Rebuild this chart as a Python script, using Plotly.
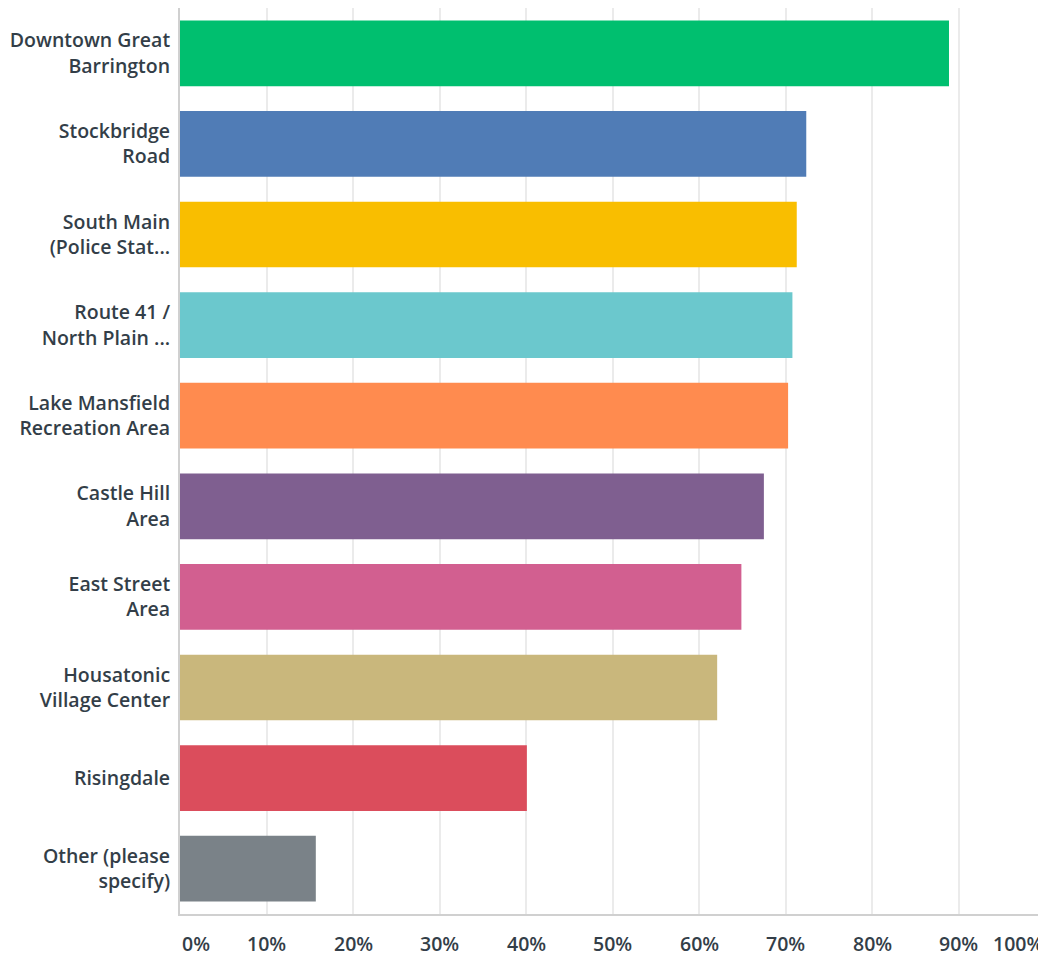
import plotly.graph_objects as go

categories = ["Downtown Great<br>Barrington", "Stockbridge<br>Road", "South Main<br>(Police Stat...",
              "Route 41 /<br>North Plain ...", "Lake Mansfield<br>Recreation Area", "Castle Hill<br>Area",
              "East Street<br>Area", "Housatonic<br>Village Center", "Risingdale", "Other (please<br>specify)"]
values = [88.9, 72.4, 71.3, 70.8, 70.3, 67.5, 64.9, 62.1, 40.1, 15.7]
colors = ["#00bf6f", "#507cb6", "#f9be00", "#6bc8cd", "#ff8b4f", "#7f5f90", "#d25f90", "#c9b77c", "#db4d5c", "#7a8288"]
tick_vals = [0, 10, 20, 30, 40, 50, 60, 70, 80, 90, 100]
tick_text = ["0%", "10%", "20%", "30%", "40%", "50%", "60%", "70%", "80%", "90%", "100%"]

FONT = "Open Sans"
TXT = "#333e48"
FS = 19.5

fig = go.Figure(go.Bar(
    x=values, y=categories, orientation="h",
    marker=dict(color=colors, line=dict(width=0)),
    hoverinfo="x+y",
))

fig.update_layout(
    width=1038, height=948,
    margin=dict(l=172, r=1, t=0, b=42),
    plot_bgcolor="white", paper_bgcolor="white",
    bargap=0.275,
    showlegend=False,
    font=dict(family=FONT, color=TXT, size=FS),
)
fig.update_yaxes(
    autorange="reversed",
    showline=True, linecolor="#d0d0d0", linewidth=2,
    ticks="", ticklabelstandoff=4,
    tickfont=dict(family=FONT, size=FS, color=TXT, weight=600),
    showgrid=False,
)
fig.update_xaxes(
    range=[0, 100], tickvals=tick_vals, showticklabels=False,
    showgrid=True, gridcolor="#ebebeb", gridwidth=2,
    showline=True, linecolor="#d0d0d0", linewidth=2,
    zeroline=False,
)
for v, t in zip(tick_vals, tick_text):
    anchor = "left" if v == 0 else ("right" if v == 100 else "center")
    fig.add_annotation(x=v, xref="x", y=0, yref="paper", yanchor="top", yshift=-14,
                       text=t, showarrow=False, xanchor=anchor,
                       font=dict(family=FONT, size=FS, color=TXT, weight=600))

fig.write_html("out.html")
